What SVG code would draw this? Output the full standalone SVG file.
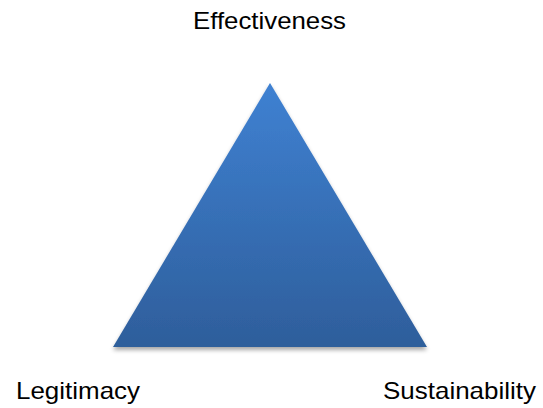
<svg xmlns="http://www.w3.org/2000/svg" width="543" height="408" viewBox="0 0 543 408">
  <style>
    .label { font-family: "Liberation Sans", Arial, sans-serif; font-size: 24px; fill: #000000; }
  </style>
  <defs>
    <linearGradient id="triFill" x1="0" y1="0" x2="0" y2="1">
      <stop offset="0" stop-color="#3f81d2"/>
      <stop offset="1" stop-color="#2e5e9b"/>
    </linearGradient>
    <filter id="softShadow" x="-10%" y="-10%" width="120%" height="130%">
      <feGaussianBlur in="SourceAlpha" stdDeviation="2"/>
      <feOffset dx="0" dy="3" result="blur"/>
      <feComponentTransfer><feFuncA type="linear" slope="0.35"/></feComponentTransfer>
      <feMerge><feMergeNode/><feMergeNode in="SourceGraphic"/></feMerge>
    </filter>
  </defs>

  <g id="triangle">
    <polygon points="270,83 427,347 113,347" fill="url(#triFill)" filter="url(#softShadow)"/>
  </g>

  <g id="effectiveness">
    <text class="label" x="193" y="29" textLength="153" lengthAdjust="spacingAndGlyphs">Effectiveness</text>
  </g>
  <g id="legitimacy">
    <text class="label" x="16" y="399" textLength="124" lengthAdjust="spacingAndGlyphs">Legitimacy</text>
  </g>
  <g id="sustainability">
    <text class="label" x="383" y="399" textLength="153" lengthAdjust="spacingAndGlyphs">Sustainability</text>
  </g>
</svg>
